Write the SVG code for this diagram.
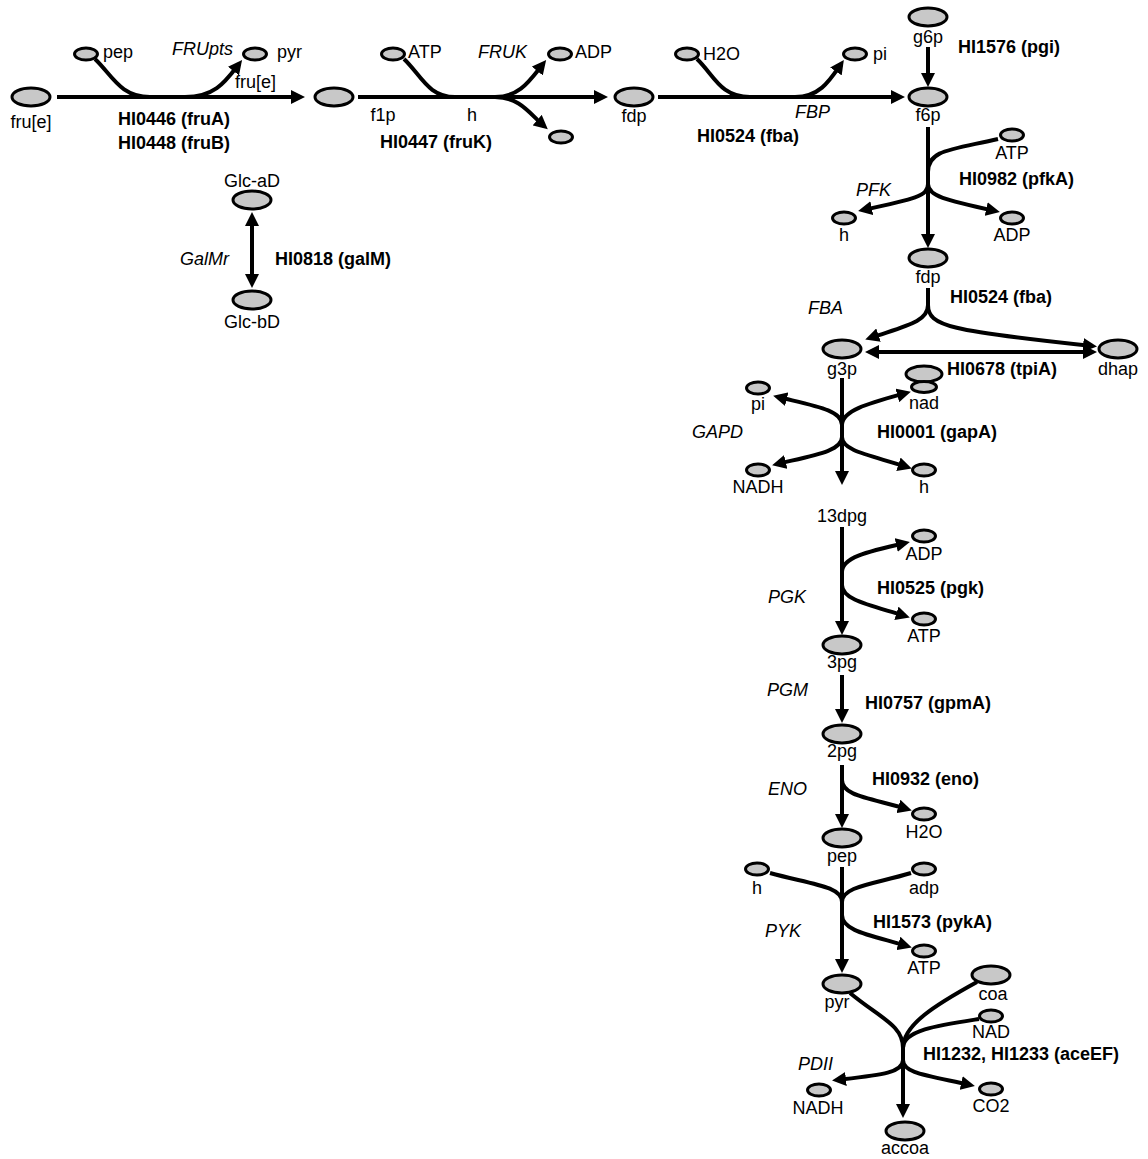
<svg xmlns="http://www.w3.org/2000/svg" width="1148" height="1159" viewBox="0 0 1148 1159">
<style>
text{font-family:"Liberation Sans",Arial,sans-serif;font-size:18px;fill:#000}
.b{font-weight:bold}
.i{font-style:italic}
.m{text-anchor:middle}
.e{text-anchor:end}
.n ellipse{fill:#c8c8c8;stroke:#000;stroke-width:3}
.c path{fill:none;stroke:#000;stroke-width:4}
.a{marker-end:url(#ah)}
.d{marker-start:url(#as);marker-end:url(#ah)}
</style>
<defs>
<marker id="ah" markerUnits="userSpaceOnUse" markerWidth="14" markerHeight="14" viewBox="0 0 14 14" refX="9" refY="7" orient="auto"><path d="M0,0 L14,7 L0,14 z" fill="#000"/></marker>
<marker id="as" markerUnits="userSpaceOnUse" markerWidth="14" markerHeight="14" viewBox="0 0 14 14" refX="9" refY="7" orient="auto-start-reverse"><path d="M0,0 L14,7 L0,14 z" fill="#000"/></marker>
</defs>
<rect width="1148" height="1159" fill="#fff"/>
<g id="connectors" class="c">
<path class="a" d="M57,97 H300"/>
<path d="M95,59 C112,75 120,97 150,97"/>
<path class="a" d="M185,97 C215,97 225,82 239,64"/>
<path class="a" d="M358,97 H603"/>
<path d="M404,59 C421,75 428,97 455,97"/>
<path class="a" d="M495,97 C520,97 530,80 543,64"/>
<path class="a" d="M495,97 C520,97 530,114 544,126"/>
<path class="a" d="M658,97 H900"/>
<path d="M697,59 C714,75 720,97 750,97"/>
<path class="a" d="M795,97 C820,97 830,80 841,64"/>
<path class="a" d="M928,47 V82"/>
<path class="a" d="M928,127 V243"/>
<path d="M998,139 C950,150 928,150 928,172"/>
<path class="a" d="M928,184 C928,196 915,199 863,210"/>
<path class="a" d="M928,184 C928,196 945,200 995,211"/>
<path d="M928,288 V310"/>
<path class="a" d="M928,305 C928,322 905,326 870,338"/>
<path class="a" d="M928,305 C928,326 950,331 1092,346"/>
<path class="d" d="M870,352 H1092"/>
<path class="a" d="M842,378 V480"/>
<path class="a" d="M842,425 C842,410 815,406 778,397"/>
<path class="a" d="M842,425 C842,410 870,403 906,393"/>
<path class="a" d="M842,437 C842,451 815,455 777,464"/>
<path class="a" d="M842,437 C842,451 870,455 907,467"/>
<path class="a" d="M842,527 V630"/>
<path class="a" d="M842,572 C842,558 865,552 905,543"/>
<path class="a" d="M842,585 C842,600 870,605 905,616"/>
<path class="a" d="M842,675 V718"/>
<path class="a" d="M842,765 V823"/>
<path class="a" d="M842,780 C842,796 870,798 907,809"/>
<path class="a" d="M842,867 V968"/>
<path d="M770,873 C810,884 842,886 842,902"/>
<path d="M911,873 C875,884 842,886 842,902"/>
<path class="a" d="M842,915 C842,931 870,935 907,946"/>
<path d="M850,993 C880,1018 903,1025 903,1048"/>
<path d="M977,982 C935,1005 903,1025 903,1048"/>
<path d="M979,1019 C940,1025 903,1030 903,1048"/>
<path class="a" d="M903,1040 V1113"/>
<path class="a" d="M903,1060 C903,1073 880,1075 837,1080"/>
<path class="a" d="M903,1060 C903,1073 925,1075 970,1085"/>
<path class="d" d="M252,217 V283"/>
</g>
<g class="n">
<g id="fru_e"><ellipse cx="31" cy="97" rx="19" ry="9"/><text class="m" x="31" y="128">fru[e]</text></g>
<g id="pep_top"><ellipse cx="86" cy="54" rx="11.5" ry="6"/><text x="103" y="58">pep</text></g>
<g id="pyr_top"><ellipse cx="255" cy="54" rx="11.5" ry="6"/><text x="277" y="58">pyr</text></g>
<g id="f1p"><ellipse cx="334" cy="97" rx="19" ry="9"/><text class="m" x="383" y="121">f1p</text></g>
<g id="atp_top"><ellipse cx="393" cy="54" rx="11.5" ry="6"/><text x="408" y="58">ATP</text></g>
<g id="adp_top"><ellipse cx="560" cy="54" rx="11.5" ry="6"/><text x="575" y="58">ADP</text></g>
<g id="h_top"><ellipse cx="561" cy="137" rx="11.5" ry="6"/><text class="m" x="472" y="121">h</text></g>
<g id="fdp_top"><ellipse cx="634" cy="97" rx="19" ry="9"/><text class="m" x="634" y="122">fdp</text></g>
<g id="h2o_top"><ellipse cx="687" cy="54" rx="11.5" ry="6"/><text x="703" y="60">H2O</text></g>
<g id="pi_top"><ellipse cx="855" cy="54" rx="11.5" ry="6"/><text x="873" y="60">pi</text></g>
<g id="g6p"><ellipse cx="928" cy="17" rx="19" ry="9"/><text class="m" x="928" y="43">g6p</text></g>
<g id="f6p"><ellipse cx="928" cy="97" rx="19" ry="9"/><text class="m" x="928" y="121">f6p</text></g>
<g id="atp_pfk"><ellipse cx="1012" cy="135" rx="11.5" ry="6"/><text class="m" x="1012" y="159">ATP</text></g>
<g id="h_pfk"><ellipse cx="844" cy="218" rx="11.5" ry="6"/><text class="m" x="844" y="241">h</text></g>
<g id="adp_pfk"><ellipse cx="1012" cy="218" rx="11.5" ry="6"/><text class="m" x="1012" y="241">ADP</text></g>
<g id="fdp"><ellipse cx="928" cy="258" rx="19" ry="9"/><text class="m" x="928" y="283">fdp</text></g>
<g id="g3p"><ellipse cx="842" cy="349" rx="19" ry="9"/><text class="m" x="842" y="375">g3p</text></g>
<g id="dhap"><ellipse cx="1118" cy="349" rx="19" ry="9"/><text class="m" x="1118" y="375">dhap</text></g>
<g id="nad"><ellipse cx="924" cy="374" rx="18" ry="8"/><ellipse cx="924" cy="387" rx="12.5" ry="5.5"/><text class="m" x="924" y="409">nad</text></g>
<g id="pi_gapd"><ellipse cx="758" cy="388" rx="11.5" ry="6"/><text class="m" x="758" y="410">pi</text></g>
<g id="nadh_gapd"><ellipse cx="758" cy="470" rx="11.5" ry="6"/><text class="m" x="758" y="493">NADH</text></g>
<g id="h_gapd"><ellipse cx="924" cy="470" rx="11.5" ry="6"/><text class="m" x="924" y="493">h</text></g>
<g id="dpg13"><text class="m" x="842" y="522">13dpg</text></g>
<g id="adp_pgk"><ellipse cx="924" cy="536" rx="11.5" ry="6"/><text class="m" x="924" y="560">ADP</text></g>
<g id="atp_pgk"><ellipse cx="924" cy="619" rx="11.5" ry="6"/><text class="m" x="924" y="642">ATP</text></g>
<g id="pg3"><ellipse cx="842" cy="645" rx="19" ry="9"/><text class="m" x="842" y="668">3pg</text></g>
<g id="pg2"><ellipse cx="842" cy="734" rx="19" ry="9"/><text class="m" x="842" y="757">2pg</text></g>
<g id="h2o_eno"><ellipse cx="924" cy="814" rx="11.5" ry="6"/><text class="m" x="924" y="838">H2O</text></g>
<g id="pep"><ellipse cx="842" cy="838" rx="19" ry="9"/><text class="m" x="842" y="862">pep</text></g>
<g id="h_pyk"><ellipse cx="757" cy="869" rx="11.5" ry="6"/><text class="m" x="757" y="894">h</text></g>
<g id="adp_pyk"><ellipse cx="924" cy="869" rx="11.5" ry="6"/><text class="m" x="924" y="894">adp</text></g>
<g id="atp_pyk"><ellipse cx="924" cy="951" rx="11.5" ry="6"/><text class="m" x="924" y="974">ATP</text></g>
<g id="pyr"><ellipse cx="842" cy="984" rx="19" ry="9"/><text class="m" x="837" y="1008">pyr</text></g>
<g id="coa"><ellipse cx="991" cy="975" rx="19" ry="9"/><text class="m" x="993" y="1000">coa</text></g>
<g id="nad_pdh"><ellipse cx="991" cy="1016" rx="11.5" ry="6"/><text class="m" x="991" y="1038">NAD</text></g>
<g id="nadh_pdh"><ellipse cx="819" cy="1090" rx="11.5" ry="6"/><text class="m" x="818" y="1114">NADH</text></g>
<g id="co2"><ellipse cx="991" cy="1089" rx="11.5" ry="6"/><text class="m" x="991" y="1112">CO2</text></g>
<g id="accoa"><ellipse cx="905" cy="1131" rx="19" ry="9"/><text class="m" x="905" y="1154">accoa</text></g>
<g id="glc_ad"><ellipse cx="252" cy="200" rx="19" ry="9"/><text class="m" x="252" y="187">Glc-aD</text></g>
<g id="glc_bd"><ellipse cx="252" cy="300" rx="19" ry="9"/><text class="m" x="252" y="328">Glc-bD</text></g>
</g>
<g id="labels">
<text class="i" x="172" y="55">FRUpts</text>
<text x="235" y="88">fru[e]</text>
<text class="b" x="118" y="125">HI0446 (fruA)</text>
<text class="b" x="118" y="149">HI0448 (fruB)</text>
<text class="i" x="478" y="58">FRUK</text>
<text class="b" x="380" y="148">HI0447 (fruK)</text>
<text class="i" x="795" y="118">FBP</text>
<text class="b" x="697" y="142">HI0524 (fba)</text>
<text class="b" x="958" y="53">HI1576 (pgi)</text>
<text class="b" x="959" y="185">HI0982 (pfkA)</text>
<text class="i" x="856" y="196">PFK</text>
<text class="b" x="950" y="303">HI0524 (fba)</text>
<text class="i" x="808" y="314">FBA</text>
<text class="b" x="947" y="375">HI0678 (tpiA)</text>
<text class="i" x="692" y="438">GAPD</text>
<text class="b" x="877" y="438">HI0001 (gapA)</text>
<text class="b" x="877" y="594">HI0525 (pgk)</text>
<text class="i" x="768" y="603">PGK</text>
<text class="i" x="767" y="696">PGM</text>
<text class="b" x="865" y="709">HI0757 (gpmA)</text>
<text class="b" x="872" y="785">HI0932 (eno)</text>
<text class="i" x="768" y="795">ENO</text>
<text class="b" x="873" y="928">HI1573 (pykA)</text>
<text class="i" x="765" y="937">PYK</text>
<text class="b" x="923" y="1060">HI1232, HI1233 (aceEF)</text>
<text class="i" x="798" y="1070">PDII</text>
<text class="i e" x="229" y="265">GalMr</text>
<text class="b" x="275" y="265">HI0818 (galM)</text>
</g>
</svg>
